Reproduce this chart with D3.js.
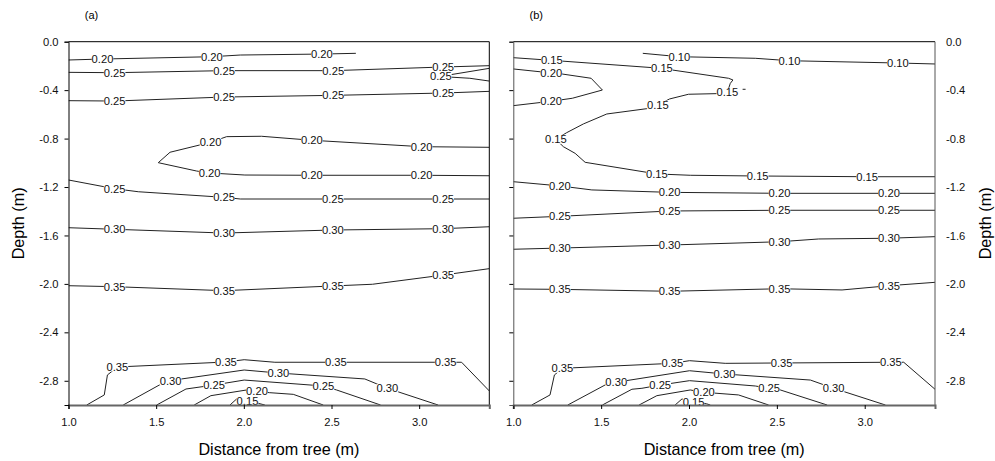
<!DOCTYPE html>
<html>
<head>
<meta charset="utf-8">
<script src="https://cdn.jsdelivr.net/npm/d3@7"></script>
<style>
  body { margin: 0; background: #fff; }
  svg text { font-family: "Liberation Sans", Arial, sans-serif; }
</style>
</head>
<body>
<div class="container"></div>
<script>
// axis ticks
var xTicks = [1.0, 1.5, 2.0, 2.5, 3.0];
var yTicks = [0, -0.4, -0.8, -1.2, -1.6, -2.0, -2.4, -2.8];

// panel (a) contours: level, polyline [distance, depth], label spots
var contoursA = [
  {level: 0.20, pts: [[1.0,-0.151],[1.194,-0.143],[1.818,-0.124],[1.98,-0.110],[2.445,-0.102],[2.639,-0.096]],
   labels: [[1.194,-0.143],[1.818,-0.124],[2.445,-0.102]]},
  {level: 0.25, pts: [[3.4,-0.220],[3.118,-0.287],[3.289,-0.302],[3.4,-0.325]],
   labels: [[3.124,-0.286]]},
  {level: 0.25, pts: [[1.0,-0.253],[1.263,-0.256],[1.887,-0.239],[2.510,-0.239],[3.137,-0.209],[3.4,-0.198]],
   labels: [[1.263,-0.256],[1.887,-0.239],[2.510,-0.239],[3.137,-0.209]]},
  {level: 0.25, pts: [[1.0,-0.487],[1.263,-0.490],[1.887,-0.457],[2.510,-0.443],[3.137,-0.424],[3.4,-0.410]],
   labels: [[1.263,-0.490],[1.887,-0.457],[2.510,-0.443],[3.137,-0.424]]},
  {level: 0.20, pts: [[3.4,-0.872],[3.014,-0.867],[2.388,-0.814],[2.101,-0.781],[1.902,-0.784],[1.810,-0.831],[1.579,-0.913],[1.512,-0.999],[1.731,-1.068],[1.805,-1.084],[2.006,-1.101],[2.388,-1.103],[3.014,-1.103],[3.4,-1.107]],
   labels: [[3.014,-0.867],[2.388,-0.814],[1.810,-0.831],[1.805,-1.084],[2.388,-1.103],[3.014,-1.103]]},
  {level: 0.25, pts: [[1.0,-1.142],[1.263,-1.214],[1.398,-1.239],[1.887,-1.285],[1.98,-1.299],[2.508,-1.299],[3.137,-1.299],[3.4,-1.299]],
   labels: [[1.263,-1.214],[1.887,-1.285],[2.508,-1.299],[3.137,-1.299]]},
  {level: 0.30, pts: [[1.0,-1.536],[1.263,-1.549],[1.887,-1.580],[2.508,-1.555],[3.137,-1.544],[3.4,-1.528]],
   labels: [[1.263,-1.549],[1.887,-1.580],[2.508,-1.555],[3.137,-1.544]]},
  {level: 0.35, pts: [[1.0,-2.015],[1.263,-2.023],[1.887,-2.056],[2.508,-2.017],[2.734,-2.003],[3.137,-1.927],[3.4,-1.874]],
   labels: [[1.263,-2.023],[1.887,-2.056],[2.508,-2.017],[3.137,-1.927]]},
  {level: 0.35, pts: [[1.104,-3.0],[1.204,-2.917],[1.222,-2.752],[1.279,-2.686],[1.898,-2.645],[2.002,-2.626],[2.177,-2.647],[3.242,-2.647],[3.4,-2.884]],
   labels: [[1.279,-2.686],[1.898,-2.645],[2.525,-2.647],[3.151,-2.647]]},
  {level: 0.30, pts: [[1.312,-3.0],[1.518,-2.835],[1.582,-2.802],[1.645,-2.785],[2.002,-2.711],[2.197,-2.736],[2.690,-2.785],[2.819,-2.862],[3.108,-3.0]],
   labels: [[1.582,-2.802],[2.197,-2.736],[2.819,-2.862]]},
  {level: 0.25, pts: [[1.503,-3.0],[1.670,-2.868],[1.830,-2.835],[2.002,-2.794],[2.454,-2.843],[2.529,-2.876],[2.780,-3.0]],
   labels: [[1.830,-2.835],[2.454,-2.843]]},
  {level: 0.20, pts: [[1.717,-3.0],[1.812,-2.923],[2.016,-2.876],[2.075,-2.887],[2.145,-2.898],[2.282,-2.912],[2.453,-3.0]],
   labels: [[2.075,-2.887]]},
  {level: 0.15, pts: [[1.921,-3.0],[1.959,-2.950],[2.021,-2.964],[2.082,-2.986],[2.120,-3.0]],
   labels: [[2.021,-2.964]]}
];

// panel (b) contours
var contoursB = [
  {level: 0.10, pts: [[1.737,-0.096],[1.945,-0.124],[2.377,-0.137],[2.572,-0.157],[3.189,-0.176],[3.4,-0.184]],
   labels: [[1.945,-0.124],[2.572,-0.157],[3.189,-0.176]]},
  {level: 0.15, pts: [[1.0,-0.132],[1.219,-0.154],[1.846,-0.220],[1.906,-0.234],[2.225,-0.302],[2.250,-0.316],[2.235,-0.344],[2.218,-0.418],[2.155,-0.429],[1.997,-0.434],[1.889,-0.473],[1.823,-0.523],[1.760,-0.553],[1.532,-0.597],[1.399,-0.679],[1.304,-0.751],[1.242,-0.806],[1.285,-0.867],[1.352,-0.922],[1.409,-0.996],[1.817,-1.092],[2.007,-1.103],[2.391,-1.109],[3.014,-1.115],[3.4,-1.115]],
   labels: [[1.219,-0.154],[1.846,-0.220],[2.218,-0.418],[1.823,-0.523],[1.242,-0.806],[1.817,-1.092],[2.391,-1.109],[3.014,-1.115]]},
  {level: 0.15, pts: [[2.305,-0.393],[2.322,-0.393]], labels: []},
  {level: 0.20, pts: [[1.0,-0.225],[1.216,-0.258],[1.279,-0.267],[1.443,-0.302],[1.507,-0.399],[1.336,-0.467],[1.215,-0.492],[1.0,-0.528]],
   labels: [[1.216,-0.258],[1.215,-0.492]]},
  {level: 0.20, pts: [[1.0,-1.156],[1.265,-1.191],[1.447,-1.224],[1.890,-1.244],[2.515,-1.252],[3.138,-1.252],[3.4,-1.252]],
   labels: [[1.265,-1.191],[1.890,-1.244],[2.515,-1.252],[3.138,-1.252]]},
  {level: 0.25, pts: [[1.0,-1.458],[1.265,-1.442],[1.890,-1.398],[2.515,-1.392],[3.138,-1.392],[3.4,-1.392]],
   labels: [[1.265,-1.442],[1.890,-1.398],[2.515,-1.392],[3.138,-1.392]]},
  {level: 0.30, pts: [[1.0,-1.714],[1.265,-1.704],[1.890,-1.679],[2.515,-1.652],[2.738,-1.629],[3.138,-1.623],[3.4,-1.610]],
   labels: [[1.265,-1.704],[1.890,-1.679],[2.515,-1.652],[3.138,-1.623]]},
  {level: 0.35, pts: [[1.0,-2.042],[1.265,-2.045],[1.890,-2.061],[2.515,-2.040],[2.871,-2.050],[3.138,-2.015],[3.4,-1.987]],
   labels: [[1.265,-2.045],[1.890,-2.061],[2.515,-2.040],[3.138,-2.015]]},
  {level: 0.35, pts: [[1.105,-3.0],[1.209,-2.917],[1.234,-2.752],[1.279,-2.697],[1.905,-2.656],[2.003,-2.634],[2.206,-2.656],[3.149,-2.647],[3.222,-2.647],[3.4,-2.870]],
   labels: [[1.279,-2.697],[1.905,-2.656],[2.527,-2.652],[3.149,-2.647]]},
  {level: 0.30, pts: [[1.310,-3.0],[1.522,-2.835],[1.586,-2.812],[2.003,-2.717],[2.202,-2.744],[2.691,-2.794],[2.823,-2.862],[3.118,-3.0]],
   labels: [[1.586,-2.812],[2.202,-2.744],[2.823,-2.862]]},
  {level: 0.25, pts: [[1.507,-3.0],[1.675,-2.870],[1.732,-2.862],[1.836,-2.835],[2.003,-2.799],[2.377,-2.843],[2.456,-2.862],[2.520,-2.876],[2.786,-3.0]],
   labels: [[1.836,-2.835],[2.456,-2.862]]},
  {level: 0.20, pts: [[1.716,-3.0],[1.817,-2.923],[2.007,-2.876],[2.085,-2.895],[2.282,-2.917],[2.453,-3.0]],
   labels: [[2.085,-2.895]]},
  {level: 0.15, pts: [[1.921,-3.0],[1.960,-2.950],[2.026,-2.973],[2.100,-2.990],[2.121,-3.0]],
   labels: [[2.026,-2.973]]}
];

var width = 995, height = 461;
var plotTop = 41.7, plotBottom = 405;

var svg = d3.select(".container").append("svg")
    .attr("width", width).attr("height", height);

function drawPanel(contours, left, right, tag, side) {
  var x = d3.scaleLinear().domain([1, 3.4]).range([left, right]);
  var y = d3.scaleLinear().domain([-3, 0]).range([plotBottom, plotTop]);
  var g = svg.append("g");
  var fmt = function(d){ return d.toFixed(1); };

  var line = d3.line()
      .x(function(d){ return x(d[0]); })
      .y(function(d){ return y(d[1]); });

  var clipId = "clip" + side;
  svg.append("clipPath").attr("id", clipId).append("rect")
      .attr("x", left).attr("y", plotTop).attr("width", right - left).attr("height", plotBottom - plotTop);

  var lines = g.append("g").attr("clip-path", "url(#" + clipId + ")");
  lines.selectAll("path")
      .data(contours)
      .enter().append("path")
      .attr("fill", "none")
      .attr("stroke", "#222")
      .attr("stroke-width", 1)
      .attr("d", function(d){ return line(d.pts); });

  // labels with white backing so the line breaks around them
  var labs = [];
  contours.forEach(function(c){
    c.labels.forEach(function(p){ labs.push({level: c.level, p: p}); });
  });
  var lg = g.selectAll("g.lab").data(labs).enter().append("g")
      .attr("class", "lab")
      .attr("transform", function(d){ return "translate(" + x(d.p[0]) + "," + y(d.p[1]) + ")"; });
  lg.append("rect")
      .attr("x", -10.8).attr("y", -4.5).attr("width", 21.6).attr("height", 9)
      .attr("fill", "#fff");
  lg.append("text")
      .attr("text-anchor", "middle")
      .attr("dy", "0.36em")
      .attr("font-size", "11.2px")
      .attr("fill", "#111")
      .text(function(d){ return d.level.toFixed(2); });

  // frame
  g.append("line").attr("x1", left).attr("x2", right).attr("y1", plotTop).attr("y2", plotTop)
      .attr("stroke", "#000");
  g.append("line").attr("x1", right).attr("x2", right).attr("y1", plotTop).attr("y2", plotBottom)
      .attr("stroke", side == "a" ? "#000" : "#555");

  var xAxis = d3.axisBottom(x).tickValues(xTicks).tickFormat(fmt).tickSize(4).tickPadding(9);
  var xg = g.append("g").attr("transform", "translate(0," + plotBottom + ")").call(xAxis);
  xg.select(".domain").attr("stroke", "#666").attr("stroke-width", 2);

  var yl = d3.axisLeft(y).tickValues(yTicks).tickSize(4).tickPadding(6);
  if (side == "a") yl.tickFormat(fmt); else yl.tickFormat("");
  var yg = g.append("g").attr("transform", "translate(" + left + ",0)").call(yl);
  yg.select(".domain").attr("stroke", side == "a" ? "#000" : "#555");

  g.selectAll(".tick text").attr("font-size", "11.2px").attr("fill", "#111")
      .attr("font-family", "Liberation Sans, Arial, sans-serif");

  if (side == "b") {
    var yr = d3.axisRight(y).tickValues(yTicks).tickFormat(fmt).tickSize(0).tickPadding(11);
    var rg = g.append("g").attr("transform", "translate(" + right + ",0)").call(yr);
    rg.select(".domain").remove();
    rg.selectAll(".tick text").attr("font-size", "11.2px").attr("fill", "#111")
        .attr("font-family", "Liberation Sans, Arial, sans-serif");
  }

  // panel tag
  g.append("text").attr("x", left + 23).attr("y", 19)
      .attr("text-anchor", "middle").attr("font-size", "11px").text(tag);

  // x title
  g.append("text").attr("x", (left + right) / 2).attr("y", 455)
      .attr("text-anchor", "middle").attr("font-size", "16.2px")
      .text("Distance from tree (m)");

  // y title
  var tx = side == "a" ? 24 : 991;
  g.append("text")
      .attr("transform", "translate(" + tx + "," + ((plotTop + plotBottom) / 2) + ") rotate(-90)")
      .attr("text-anchor", "middle").attr("font-size", "16.2px")
      .text("Depth (m)");
}

drawPanel(contoursA, 68.5, 489.3, "(a)", "a");
drawPanel(contoursB, 513.3, 935, "(b)", "b");
</script>
</body>
</html>
